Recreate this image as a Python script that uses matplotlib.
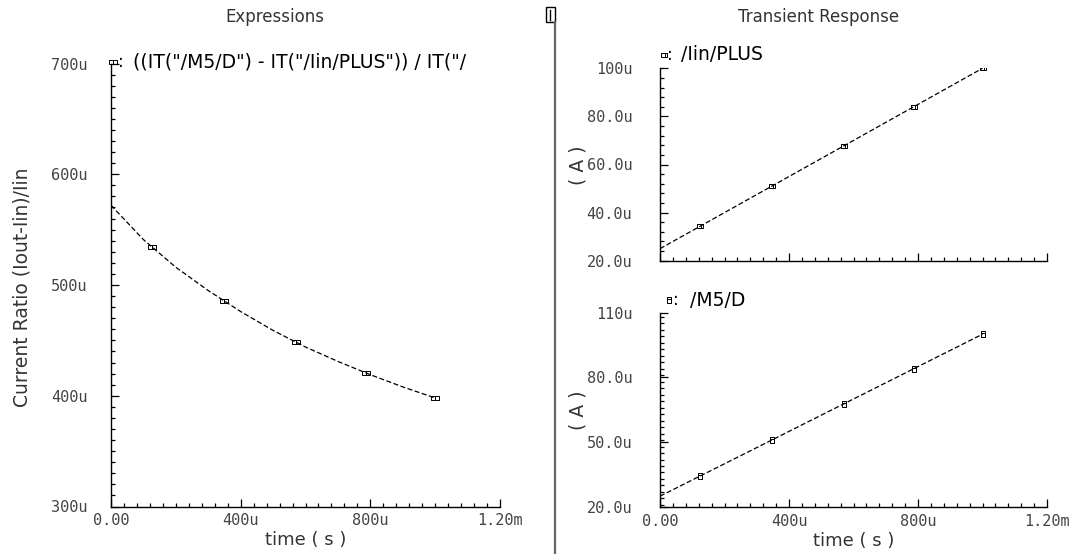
import numpy as np
import matplotlib
matplotlib.use('Agg')
import matplotlib.pyplot as plt
from matplotlib.path import Path
from matplotlib.lines import Line2D
from matplotlib.patches import Rectangle
from matplotlib.ticker import MultipleLocator, FixedLocator, FixedFormatter

## sample times (u s)
t_us = [0, 100, 200, 300, 400, 500, 600, 700, 800, 900, 1000]
## current ratio (u)
ratio_u = [572, 541, 516, 495, 476, 459, 444, 431, 419, 408, 398]
## transient currents (uA)
iin_ua = [25.0, 32.5, 40.0, 47.5, 55.0, 62.5, 70.0, 77.5, 85.0, 92.5, 100.0]
m5_ua = [25.01, 32.52, 40.02, 47.52, 55.03, 62.53, 70.03, 77.53, 85.04, 92.54, 100.04]
## where the markers sit on the traces (u s)
mark_t_us = [125, 348, 570, 788, 1000]

xticks = [0, 400, 800, 1200]
xticklabels = ['0.00', '400u', '800u', '1.20m']
yticks_ratio = [300, 400, 500, 600, 700]
yticklabels_ratio = ['300u', '400u', '500u', '600u', '700u']
yticks_iin = [20, 40, 60, 80, 100]
yticklabels_iin = ['20.0u', '40.0u', '60.0u', '80.0u', '100u']
yticks_m5 = [20, 50, 80, 110]
yticklabels_m5 = ['20.0u', '50.0u', '80.0u', '110u']

W, H = 1091, 554
fig = plt.figure(figsize=(W/100, H/100), dpi=100)
fig.patch.set_facecolor('white')

def fx(px):
    return px / W

def fy(py):
    return 1 - py / H

def mk_path(polys, lines=()):
    verts, codes = [], []
    for p in polys:
        verts += p + [p[0]]
        codes += [Path.MOVETO] + [Path.LINETO]*(len(p)-1) + [Path.CLOSEPOLY]
    for a, b in lines:
        verts += [a, b]
        codes += [Path.MOVETO, Path.LINETO]
    return Path(verts, codes)

m_left = mk_path([[(-1, -0.4), (0, -0.4), (0, 0.4), (-1, 0.4)],
                  [(0, -0.4), (1, -0.4), (1, 0.4), (0, 0.4)]])
m_iin = mk_path([[(-1, -0.55), (1, -0.55), (1, 0.55), (-1, 0.55)]],
                [((0.3, -0.55), (0.3, 0.55))])
m_m5 = mk_path([[(-0.55, -1), (0.55, -1), (0.55, 1), (-0.55, 1)]],
               [((-0.55, 0.2), (0.55, 0.2))])

dash = (0, (4, 2))
tick_col = '#444444'
txt_col = '#333333'
mono = 'DejaVu Sans Mono'

def style(ax, xmin, xmax, ymin, ymax, yt, ytl, yminor, ypad):
    ax.set_xlim(xmin, xmax)
    ax.set_ylim(ymin, ymax)
    for s in ['top', 'right']:
        ax.spines[s].set_visible(False)
    for s in ['left', 'bottom']:
        ax.spines[s].set_linewidth(1.0)
    ax.xaxis.set_major_locator(FixedLocator(xticks))
    ax.xaxis.set_major_formatter(FixedFormatter(xticklabels))
    ax.xaxis.set_minor_locator(MultipleLocator(40))
    ax.yaxis.set_major_locator(FixedLocator(yt))
    ax.yaxis.set_major_formatter(FixedFormatter(ytl))
    ax.yaxis.set_minor_locator(MultipleLocator(yminor))
    ax.tick_params(which='both', direction='in', color='black', width=0.9)
    ax.tick_params(which='major', length=6)
    ax.tick_params(which='minor', length=3)
    ax.tick_params(axis='x', which='major', pad=5, labelsize=11, labelcolor=tick_col)
    ax.tick_params(axis='y', which='major', pad=ypad, labelsize=11, labelcolor=tick_col)
    for lab in ax.get_xticklabels() + ax.get_yticklabels():
        lab.set_fontfamily(mono)
    ax.set_xlabel('time ( s )', fontsize=13, color=txt_col, labelpad=2)

def mark_y(xs, ys):
    return list(np.interp(mark_t_us, xs, ys))

## left: expressions
ax1 = fig.add_axes([fx(111), fy(506.5), fx(500-111), (506.5-63.5)/H])
ax1.plot(t_us, ratio_u, color='black', lw=0.9, ls=dash)
ax1.plot(mark_t_us, mark_y(t_us, ratio_u), ls='none', marker=m_left, ms=6,
         mfc='none', mec='black', mew=0.7)
style(ax1, 0, 1200, 300, 700, yticks_ratio, yticklabels_ratio, 10, 17)
fig.text(fx(22), fy(287), 'Current Ratio (Iout-Iin)/Iin', rotation=90,
         ha='center', va='center', fontsize=13.5, color=txt_col)

## top right: /Iin/PLUS
ax2 = fig.add_axes([fx(660), fy(260.7), fx(1047-660), (260.7-68.3)/H])
ax2.plot(t_us, iin_ua, color='black', lw=0.9, ls=dash)
ax2.plot(mark_t_us, mark_y(t_us, iin_ua), ls='none', marker=m_iin, ms=4.5,
         mfc='none', mec='black', mew=0.7)
style(ax2, 0, 1200, 20, 100, yticks_iin, yticklabels_iin, 4, 20)
ax2.set_xlabel('')
ax2.set_xticklabels([])

## bottom right: /M5/D
ax3 = fig.add_axes([fx(660), fy(507), fx(1047-660), (507-312.7)/H])
ax3.plot(t_us, m5_ua, color='black', lw=0.9, ls=dash)
ax3.plot(mark_t_us, mark_y(t_us, m5_ua), ls='none', marker=m_m5, ms=4.5,
         mfc='none', mec='black', mew=0.7)
style(ax3, 0, 1200, 20, 110, yticks_m5, yticklabels_m5, 3, 20)

for yc in (165, 410):
    fig.text(fx(578), fy(yc), '( A )', rotation=90, ha='center', va='center',
             fontsize=13.5, color=txt_col)

## titles
fig.text(fx(275), fy(17), 'Expressions', ha='center', va='center',
         fontsize=12, color=txt_col)
fig.text(fx(819), fy(17), 'Transient Response', ha='center', va='center',
         fontsize=12, color=txt_col)

## trace labels
legends = [
    (113, 62, m_left, 6, 121, 133, '((IT("/M5/D") - IT("/Iin/PLUS")) / IT("/'),
    (664, 55, m_iin, 4, 670, 681, '/Iin/PLUS'),
    (669, 300, m_m5, 4, 676, 690, '/M5/D'),
]
for mx, my, mp, ms, cx, tx, txt in legends:
    fig.add_artist(Line2D([fx(mx)], [fy(my)], marker=mp, ms=ms, mfc='none',
                          mec='black', mew=0.7, ls='none',
                          transform=fig.transFigure))
    fig.text(fx(cx), fy(my), ':', ha='center', va='center', fontsize=12)
    fig.text(fx(tx), fy(my), txt, ha='left', va='center', fontsize=13.5)

## window divider
fig.add_artist(Line2D([fx(555), fx(555)], [0, fy(22)], color='#666666', lw=1.6,
                      transform=fig.transFigure))
fig.add_artist(Rectangle((fx(546), fy(22)), fx(9), 15/H, fill=False,
                         edgecolor='black', lw=1.0, transform=fig.transFigure))
fig.add_artist(Line2D([fx(550), fx(550)], [fy(20), fy(10)], color='black', lw=1.0,
                      transform=fig.transFigure))

fig.savefig('out.png', dpi=100, facecolor='white')
